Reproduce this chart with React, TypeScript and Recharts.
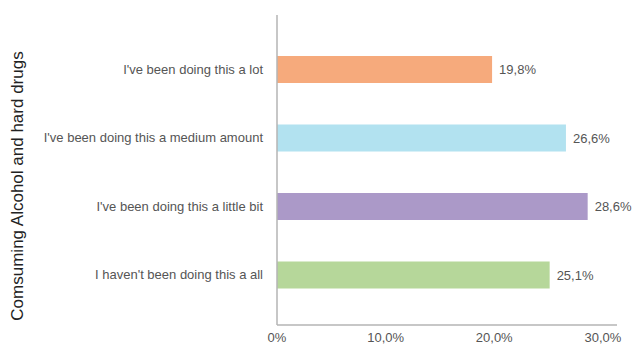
import { BarChart, Bar, XAxis, YAxis, Cell, LabelList, Label } from 'recharts';

const categories = [
  "I've been doing this a lot",
  "I've been doing this a medium amount",
  "I've been doing this a little bit",
  "I haven't been doing this a all",
];
const values = [19.8, 26.6, 28.6, 25.1];
const colors = ['#f6aa7c', '#b2e2f0', '#ab99c8', '#b6d79a'];
const xTicks = [0, 10, 20, 30];
const axisTitle = 'Comsuming Alcohol and hard drugs';

const data = categories.map((name, i) => ({ name, value: values[i] }));

const fmt = (v: number) => (v === 0 ? '0%' : v.toFixed(1).replace('.', ',') + '%');

const FONT = '"Liberation Sans", Arial, sans-serif';

export default function App() {
  return (
    <div style={{ position: 'absolute', left: 0, top: 0, fontFamily: FONT }}>
      <BarChart
        width={636}
        height={345}
        data={data}
        layout="vertical"
        margin={{ top: 15, right: 19, bottom: 0, left: 0 }}
      >
        <XAxis
          type="number"
          domain={[0, 31.3]}
          ticks={xTicks}
          tickFormatter={fmt}
          tickLine={false}
          axisLine={{ stroke: '#b5b5b5', strokeWidth: 1.5 }}
          tick={{ fill: '#555', fontSize: 13, fontFamily: FONT }}
          height={20}
          interval={0}
        />
        <YAxis
          type="category"
          dataKey="name"
          width={277}
          tickLine={false}
          tickMargin={8}
          axisLine={{ stroke: '#b5b5b5', strokeWidth: 1.5 }}
          tick={{ fill: '#555', fontSize: 13, fontFamily: FONT }}
          padding={{ top: 20, bottom: 16 }}
          interval={0}
        >
          <Label
            content={({ viewBox }: any) => {
              const cy = viewBox.y + viewBox.height / 2 + 16;
              return (
                <text
                  x={17}
                  y={cy}
                  transform={`rotate(-90, 17, ${cy})`}
                  textAnchor="middle"
                  dominantBaseline="central"
                  fill="#222"
                  fontSize={17}
                  fontFamily={FONT}
                >
                  {axisTitle}
                </text>
              );
            }}
          />
        </YAxis>
        <Bar dataKey="value" barSize={27} isAnimationActive={false}>
          {data.map((d, i) => (
            <Cell key={d.name} fill={colors[i]} />
          ))}
          <LabelList
            dataKey="value"
            position="right"
            offset={7}
            formatter={(v: any) => fmt(Number(v))}
            style={{ fill: '#555', fontSize: 13, fontFamily: FONT }}
          />
        </Bar>
      </BarChart>
    </div>
  );
}
